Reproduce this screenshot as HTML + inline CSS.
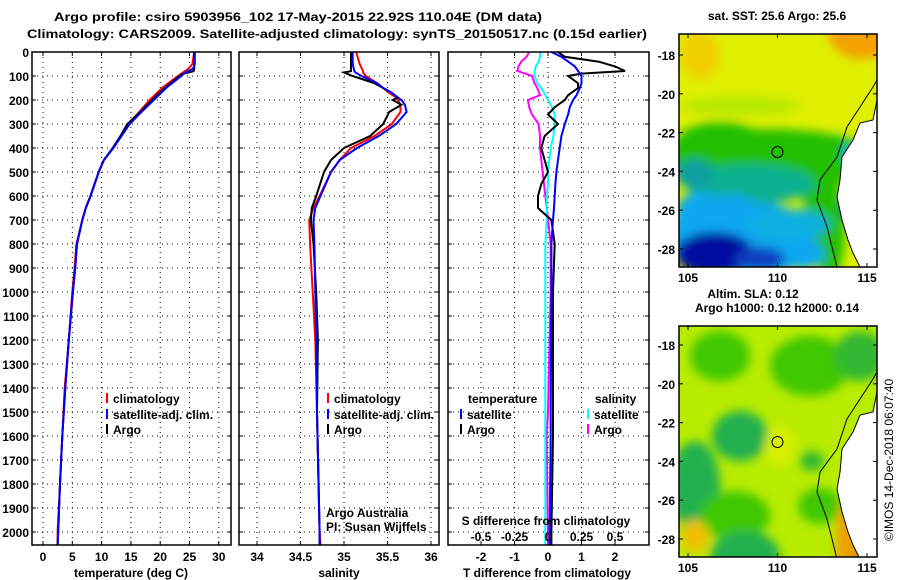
<!DOCTYPE html>
<html><head><meta charset="utf-8"><style>
html,body{margin:0;padding:0;background:#fff;}
svg{display:block;font-family:"Liberation Sans",sans-serif;}
.b{font-weight:bold;font-size:12px;}
</style></head><body>
<svg id="s" width="900" height="580" viewBox="0 0 900 580" xmlns="http://www.w3.org/2000/svg">
<defs>
<filter id="bl" x="-20%" y="-20%" width="140%" height="140%"><feGaussianBlur stdDeviation="5"/></filter>
<clipPath id="c1"><rect x="679" y="34" width="198" height="233"/></clipPath>
<clipPath id="c2"><rect x="679" y="326" width="198" height="231"/></clipPath>
</defs>
<text class="b" x="54" y="21" font-size="13" textLength="488" lengthAdjust="spacingAndGlyphs">Argo profile: csiro 5903956_102 17-May-2015 22.92S 110.04E (DM data)</text>
<text class="b" x="27" y="38" font-size="13" textLength="620" lengthAdjust="spacingAndGlyphs">Climatology: CARS2009. Satellite-adjusted climatology: synTS_20150517.nc (0.15d earlier)</text>
<g id="g"></g>
<text class="b" x="777" y="20" text-anchor="middle">sat. SST: 25.6 Argo: 25.6</text>
<text class="b" x="753" y="298" text-anchor="middle">Altim. SLA: 0.12</text>
<text class="b" x="777" y="312" text-anchor="middle">Argo h1000: 0.12 h2000: 0.14</text>
<text x="893" y="460" font-size="12" text-anchor="middle" transform="rotate(-90 893 460)">©IMOS 14-Dec-2018 06:07:40</text>
</svg>
<script>
// ---- data ----
const depthTicks=[0,100,200,300,400,500,600,700,800,900,1000,1100,1200,1300,1400,1500,1600,1700,1800,1900,2000];
const tempTicks=[0,5,10,15,20,25,30];
const salTicks=[34,34.5,35,35.5,36];
const salTickLabels=["34","34.5","35","35.5","36"];
const tdTicks=[-2,-1,0,1,2];
const sdTicks=[-0.5,-0.25,0,0.25,0.5];
const sdTickLabels=["-0.5","-0.25","0","0.25","0.5"];
const latTicks=[-18,-20,-22,-24,-26,-28];
const lonTicks=[105,110,115];

const tDepth=[0,50,70,80,90,100,150,200,250,300,350,400,450,500,600,650,700,800,900,1000,1200,1400,1600,1800,2000,2055];
const tArgo=[25.8,25.8,25.8,25.7,24.0,23.3,20.8,18.6,16.6,14.4,13.2,11.9,10.4,9.5,8.1,7.3,6.7,5.8,5.5,5.1,4.4,3.8,3.3,2.9,2.6,2.5];
const tClim=[25.8,25.5,24.8,24.2,23.6,23.0,20.3,18.2,16.4,14.6,13.3,12.0,10.4,9.5,8.1,7.3,6.7,5.7,5.4,5.0,4.4,3.7,3.3,2.9,2.5,2.5];
const tSat=[25.9,25.9,25.6,24.8,24.0,23.6,21.0,18.9,16.8,14.8,13.4,12.0,10.4,9.5,8.1,7.3,6.7,5.8,5.5,5.1,4.4,3.8,3.3,2.9,2.6,2.5];

const sDepth=[0,50,80,85,100,130,150,170,190,200,220,250,300,350,400,450,500,600,650,700,800,1000,1200,1500,2000,2055];
const sArgo=[35.08,35.08,35.08,35.0,35.1,35.35,35.45,35.55,35.62,35.56,35.66,35.52,35.45,35.3,35.0,34.85,34.77,34.68,34.63,34.62,34.65,34.68,34.7,34.69,34.72,34.72];
const sClim=[35.14,35.18,35.22,35.22,35.25,35.38,35.45,35.52,35.6,35.62,35.65,35.65,35.55,35.35,35.08,34.95,34.85,34.72,34.65,34.6,34.61,34.64,34.67,34.69,34.72,34.73];
const sSat=[35.1,35.1,35.12,35.13,35.2,35.38,35.45,35.55,35.62,35.66,35.7,35.72,35.6,35.4,35.15,34.95,34.85,34.73,34.67,34.65,34.66,34.67,34.68,34.69,34.72,34.72];

const dDepth=[0,20,40,60,79,90,100,130,150,180,200,230,260,300,350,400,450,500,550,600,650,700,800,1000,1500,1600,2000,2055];
const tdArgo=[0.3,0.5,1.5,2.0,2.3,1.0,0.6,0.9,0.9,0.6,0.5,0.2,0.0,0.3,-0.1,-0.2,-0.1,0.0,-0.2,-0.3,-0.3,0.1,0.2,0.15,0.15,0.15,0.1,0.1];
const tdSat=[0.1,0.4,0.6,0.8,0.9,0.95,1.0,1.0,0.95,0.85,0.75,0.65,0.6,0.5,0.4,0.35,0.3,0.25,0.22,0.2,0.18,0.15,0.1,0.1,0.08,0.08,0.05,0.05];
const sdSat=[-0.06,-0.06,-0.07,-0.09,-0.1,-0.1,-0.1,-0.08,-0.05,-0.02,0.0,0.03,0.05,0.05,0.04,0.02,0.01,0.0,0.0,-0.01,-0.01,-0.01,-0.02,-0.02,-0.02,-0.02,-0.02,-0.02];
const sdArgo=[-0.14,-0.16,-0.2,-0.22,-0.23,-0.17,-0.12,-0.1,-0.08,-0.06,-0.15,-0.14,-0.12,-0.07,-0.06,-0.06,-0.05,-0.04,-0.03,-0.02,-0.01,0.0,0.02,0.02,0.0,-0.01,0.0,0.0];

// ---- axes ----
const Y0=52,Y1=545;
const yD=d=>Y0+d*0.24;
const xT=t=>43+t*5.86;
const xS=s=>257+(s-34)*87;
const xTD=d=>548+d*33.5;
const xSD=s=>548+s*134;
const NS="http://www.w3.org/2000/svg";
const g=document.getElementById('g');
function el(tag,attrs,parent){const e=document.createElementNS(NS,tag);for(const k in attrs)e.setAttribute(k,attrs[k]);(parent||g).appendChild(e);return e;}
function txt(x,y,s,anchor,cls){const t=el('text',{x:x,y:y,'text-anchor':anchor||'start','class':cls||'b'});t.textContent=s;return t;}

const panels=[{x0:32,x1:231,name:'temperature-panel'},{x0:239,x1:439,name:'salinity-panel'},{x0:448,x1:649,name:'difference-panel'}];
panels.forEach(p=>{
  const pg=el('g',{});
  
  
  p.g=pg;
  depthTicks.forEach(d=>{if(d>0){const l=el('line',{x1:p.x0,x2:p.x1,y1:yD(d),y2:yD(d),stroke:'#000','stroke-width':1,'stroke-dasharray':'1,4'},pg);}});
});
function vgrid(p,xs){xs.forEach(x=>{const l=el('line',{x1:x,x2:x,y1:Y0,y2:Y1,stroke:'#000','stroke-width':1,'stroke-dasharray':'1,4'},p.g);
 el('line',{x1:x,x2:x,y1:Y0,y2:Y0+4,stroke:'#000'},p.g);el('line',{x1:x,x2:x,y1:Y1,y2:Y1-4,stroke:'#000'},p.g);});}
vgrid(panels[0],tempTicks.map(xT));
vgrid(panels[1],salTicks.map(xS));
vgrid(panels[2],tdTicks.map(xTD));
panels.forEach(p=>{depthTicks.forEach(d=>{el('line',{x1:p.x0,x2:p.x0+4,y1:yD(d),y2:yD(d),stroke:'#000'},p.g);el('line',{x1:p.x1,x2:p.x1-4,y1:yD(d),y2:yD(d),stroke:'#000'},p.g);});});

depthTicks.forEach(d=>{const t=txt(29,yD(d)+5,String(d),'end');});
tempTicks.forEach(v=>{const t=txt(xT(v),561,String(v),'middle');});
salTicks.forEach((v,i)=>{const t=txt(xS(v),561,salTickLabels[i],'middle');});
tdTicks.forEach(v=>{const t=txt(xTD(v),561,String(v),'middle');});
sdTicks.forEach((v,i)=>{const t=txt(xSD(v),541,sdTickLabels[i],'middle');});

let t;
t=txt(131,577,'temperature (deg C)','middle');
t=txt(339,577,'salinity','middle');
t=txt(547,577,'T difference from climatology','middle');
t=txt(546,525,'S difference from climatology','middle');
t=txt(326,517,'Argo Australia','start','');t.setAttribute('font-size','12');
t=txt(326,531,'PI: Susan Wijffels','start','');t.setAttribute('font-size','12');

function line(xs,ys,fx,color,name,parent){
  let d='';for(let i=0;i<xs.length;i++){d+=(i?'L':'M')+fx(xs[i]).toFixed(1)+','+yD(ys[i]).toFixed(1);}
  const p=el('path',{d:d,fill:'none',stroke:color,'stroke-width':2},parent);
  
  
}
line(tClim,tDepth,xT,'#f00','temp-climatology-line',panels[0].g);
line(tArgo,tDepth,xT,'#000','temp-argo-line',panels[0].g);
line(tSat,tDepth,xT,'#00f','temp-satellite-line',panels[0].g);
line(sClim,sDepth,xS,'#f00','sal-climatology-line',panels[1].g);
line(sArgo,sDepth,xS,'#000','sal-argo-line',panels[1].g);
line(sSat,sDepth,xS,'#00f','sal-satellite-line',panels[1].g);
line(sdArgo,dDepth,xSD,'#f0f','s-diff-argo-line',panels[2].g);
line(sdSat,dDepth,xSD,'#0ff','s-diff-satellite-line',panels[2].g);
line(tdArgo,dDepth,xTD,'#000','t-diff-argo-line',panels[2].g);
line(tdSat,dDepth,xTD,'#00f','t-diff-satellite-line',panels[2].g);

panels.forEach(p=>{el('rect',{x:p.x0,y:Y0,width:p.x1-p.x0,height:Y1-Y0,fill:'none',stroke:'#000','stroke-width':1.5},p.g);});

function legend(x,y,color,label,name){
  const lg=el('g',{});
  
  
  el('line',{x1:x,x2:x,y1:y-10,y2:y,stroke:color,'stroke-width':2},lg);
  const tt=txt(x+6,y,label);lg.appendChild(tt);
}
legend(107,403,'#f00','climatology','legend-temp-climatology');
legend(107,419,'#00f','satellite-adj. clim.','legend-temp-satellite');
legend(107,434,'#000','Argo','legend-temp-argo');
legend(328,403,'#f00','climatology','legend-sal-climatology');
legend(328,419,'#00f','satellite-adj. clim.','legend-sal-satellite');
legend(328,434,'#000','Argo','legend-sal-argo');
t=txt(468,403,'temperature');
legend(461,419,'#00f','satellite','legend-tdiff-satellite');
legend(461,434,'#000','Argo','legend-tdiff-argo');
t=txt(595,403,'salinity');
legend(588,419,'#0ff','satellite','legend-sdiff-satellite');
legend(588,434,'#f0f','Argo','legend-sdiff-argo');

// ---- maps ----
const lonX=lon=>688+(lon-105)*17.9;
function map(top,clip,blobs,bg,name,latOf){
  const mg=el('g',{});
  
  
  const cg=el('g',{'clip-path':'url(#'+clip+')'},mg);
  el('rect',{x:679,y:top,width:198,height:233,fill:bg},cg);
  const bgrp=el('g',{filter:'url(#bl)'},cg);
  blobs.forEach(b=>el('ellipse',{cx:b[0],cy:top+b[1],rx:b[2],ry:b[3],fill:b[4]},bgrp));
  const off=top-34;
  const coast=[[877,100],[873,120],[860,123],[853,140],[842,157],[840,180],[837,197],[842,220],[848,240],[853,253],[860,267]];
  let d='M877,'+(100+off);coast.forEach(c=>d+='L'+c[0]+','+(c[1]+off));d+='L877,'+(267+off)+'Z';
  el('path',{d:d,fill:'#fff',stroke:'#000','stroke-width':1},cg);
  const shelf=[[877,80],[873,87],[847,127],[837,157],[820,180],[817,200],[827,227],[837,267]];
  let d2='';shelf.forEach((c,i)=>d2+=(i?'L':'M')+c[0]+','+(c[1]+off));
  el('path',{d:d2,fill:'none',stroke:'#000','stroke-width':1},cg);
  el('rect',{x:679,y:top,width:198,height:top===34?233:231,fill:'none',stroke:'#000','stroke-width':1.5},mg);
  const cy=latOf(-23);
  const c=el('circle',{cx:lonX(110),cy:cy,r:5.5,fill:'none',stroke:'#000','stroke-width':1},mg);
  
  
  latTicks.forEach(l=>{const y=latOf(l);el('line',{x1:679,x2:683,y1:y,y2:y,stroke:'#000'},mg);el('line',{x1:877,x2:873,y1:y,y2:y,stroke:'#000'},mg);
    const tt=txt(675,y+5,String(l),'end');});
  const bottom=top===34?267:557;
  lonTicks.forEach(l=>{const x=lonX(l);el('line',{x1:x,x2:x,y1:top,y2:top+4,stroke:'#000'},mg);el('line',{x1:x,x2:x,y1:bottom,y2:bottom-4,stroke:'#000'},mg);
    const tt=txt(x,bottom+15,String(l),'middle');});
}
const sstBlobs=[
 [770,125,110,30,'#20c000'],[740,205,75,40,'#10a8f0'],
 [862,-5,35,30,'#f4a000'],[700,20,20,25,'#f0d000'],
 [740,72,60,10,'#b8e800'],
 [720,110,45,22,'#20c000'],[785,125,45,20,'#20c000'],[820,150,20,35,'#20c000'],[830,200,15,45,'#20c000'],
 [750,150,65,20,'#10b090'],[695,140,20,15,'#10a0a0'],
 [700,180,25,22,'#10a8f0'],[730,175,30,15,'#10a8f0'],[790,190,40,15,'#10b0e0'],[800,220,25,15,'#10a8f0'],
 [715,220,40,22,'#0010a0'],[760,225,25,12,'#1040c0'],
 [852,172,10,18,'#0020a0'],[850,120,6,10,'#10a8f0']];
map(34,'c1',sstBlobs,'#e0f000','sst-map',lat=>55+(-18-lat)*19.4);
const slaBlobs=[
 [720,30,30,25,'#40c800'],[810,40,40,30,'#40c800'],[860,30,25,25,'#30b830'],
 [695,160,25,45,'#20b050'],[740,110,28,25,'#20b050'],[735,190,35,25,'#40c800'],
 [745,230,35,25,'#20b050'],[820,180,22,18,'#40c800'],[812,135,12,10,'#30b830'],
 [695,210,14,16,'#f0c000'],[848,215,12,45,'#f0a000'],[858,245,10,20,'#e08000'],[780,120,15,20,'#d8f000']];
map(326,'c2',slaBlobs,'#b8ec00','sla-map',lat=>345+(-18-lat)*19.4);
</script>
</body></html>
